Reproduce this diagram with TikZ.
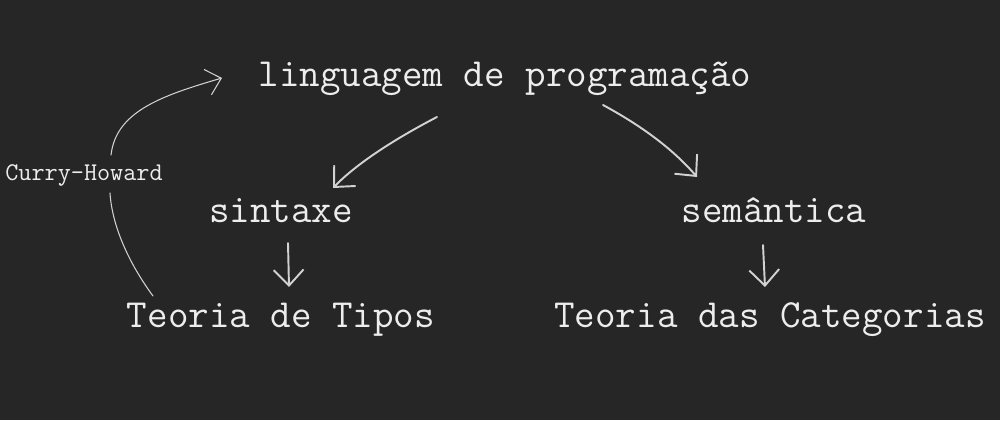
\documentclass[tikz,border=0pt]{standalone}
\usepackage{fontspec}
\usetikzlibrary{arrows.meta,calc}
\definecolor{bgdark}{HTML}{262626}
\definecolor{inkwhite}{HTML}{EDEDED}
\definecolor{inkgray}{HTML}{D2D2D2}
\begin{document}
\begin{tikzpicture}[
  x=0.02cm, y=-0.02cm,
  term/.style={text=inkwhite, inner sep=0pt, anchor=base, font=\ttfamily\fontsize{22.7}{27}\selectfont},
  small/.style={text=inkwhite, inner sep=0pt, anchor=base, font=\ttfamily\fontsize{14.5}{17}\selectfont},
  arr/.style={-{Straight Barb[length=9pt,width=17pt]}, draw=inkgray, line width=1.1pt, line cap=round},
  thin/.style={draw=inkgray, line width=0.6pt, line cap=round},
]

% Background
\fill[bgdark] (0,0) rectangle (1000,420);
\useasboundingbox (0,0) rectangle (1000,420);

% Terms
\node[term] (ling) at (505,86) {linguagem de programação};
\node[term] (sint) at (281,222) {sintaxe};
\node[term] (sem) at (774,222) {semântica};
\node[term] (tipos) at (281,327) {Teoria de Tipos};
\node[term] (cat) at (770,327) {Teoria das Categorias};
\node[small] (ch) at (84,180) {Curry-Howard};

% Language splits into syntax and semantics
\draw[arr] ($(ling.base)+(-68,31)$) .. controls (410,131) and (362,158) .. ($(sint.base)+(52,-34)$);
\draw[arr] ($(ling.base)+(98,19)$) .. controls (640,125) and (672,148) .. ($(sem.base)+(-77,-45)$);

% Down to the theories
\draw[arr] ($(sint.base)+(7,21)$) -- ($(tipos.base)+(8,-40)$);
\draw[arr] ($(sem.base)+(-11,23)$) -- ($(cat.base)+(-5,-40)$);

% Curry-Howard correspondence
\draw[thin] ($(tipos.base)+(-128,-31)$) .. controls (128,262) and (112,225) .. ($(ch.base)+(26,13)$);
\draw[thin, -{Straight Barb[length=8pt,width=15pt]}] ($(ch.base)+(27,-25)$) .. controls (116,112) and (160,96) .. ($(ling.base)+(-283,-8)$);

\end{tikzpicture}
\end{document}
